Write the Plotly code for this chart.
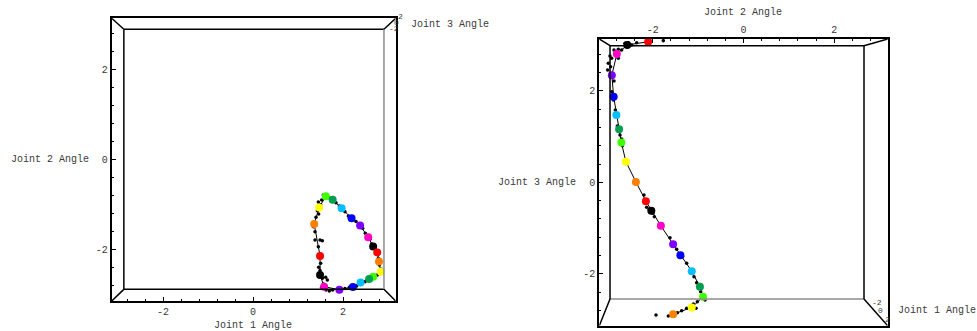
import plotly.graph_objects as go

# ---------------- data ----------------
# 20 coloured markers along one period of the trajectory, in time order
marker_colors = ["#ff8000", "#ffff00", "#40ff00", "#00a050", "#00bfff",
                 "#0000ff", "#8000ff", "#ff00c8", "#000000", "#ff0000",
                 "#ff8000", "#ffff00", "#40ff00", "#00a050", "#00bfff",
                 "#0000ff", "#8000ff", "#ff00c8", "#000000", "#ff0000"]

# view 1 (Joint 1 vs Joint 2)
view1_joint1 = [1.36, 1.47, 1.62, 1.77, 1.97, 2.19, 2.38, 2.56, 2.67, 2.76,
                2.80, 2.84, 2.67, 2.58, 2.39, 2.22, 1.92, 1.58, 1.49, 1.49]
view1_joint2 = [-1.44, -1.07, -0.82, -0.90, -1.09, -1.31, -1.47, -1.73, -1.94, -2.07,
                -2.27, -2.50, -2.61, -2.66, -2.74, -2.84, -2.90, -2.83, -2.57, -2.15]

# view 2 (Joint 2 vs Joint 3)
view2_joint2 = [-1.55, -1.14, -0.89, -0.96, -1.14, -1.39, -1.55, -1.82, -2.03, -2.15,
                -2.37, -2.59, -2.69, -2.74, -2.80, -2.86, -2.90, -2.79, -2.56, -2.10]
view2_joint3 = [-2.88, -2.73, -2.50, -2.28, -1.94, -1.59, -1.35, -0.95, -0.62, -0.41,
                0.01, 0.45, 0.87, 1.16, 1.47, 1.87, 2.34, 2.80, 3.00, 3.07]

# raw samples (small black dots)
samples1_joint1 = [1.563, 1.652, 1.526, 1.452, 1.504, 1.430, 1.459, 1.400, 1.341, 1.378,
                   1.378, 1.489, 1.541, 1.452, 1.504, 1.459, 1.489, 1.474, 1.541, 1.615,
                   1.652, 1.563, 1.526, 1.622, 1.696, 1.770, 2.044, 2.141, 2.304, 2.489,
                   2.541, 2.763, 2.859, 2.807, 2.785, 2.733, 2.637, 2.600, 2.496, 2.437,
                   2.289, 2.119, 2.044, 1.919, 1.844, 1.711]
samples1_joint2 = [-0.793, -0.845, -0.904, -0.948, -1.008, -1.141, -1.215, -1.289, -1.497, -1.608,
                   -1.793, -1.793, -1.808, -1.941, -2.311, -2.400, -2.474, -2.607, -2.645, -2.622,
                   -2.681, -2.770, -2.845, -2.904, -2.926, -2.904, -2.874, -2.845, -2.815, -2.719,
                   -2.667, -2.570, -2.445, -2.348, -2.200, -2.015, -1.882, -1.778, -1.644, -1.533,
                   -1.385, -1.259, -1.163, -1.037, -0.963, -0.867]

samples2_joint2 = [-2.610, -2.537, -2.463, -2.353, -2.683, -2.757, -2.852, -2.941, -2.904, -2.757,
                   -2.977, -2.926, -2.992, -2.852, -2.904, -2.867, -2.823, -2.779, -2.720, -2.683,
                   -2.668, -2.624, -2.192, -2.133, -2.074, -2.000, -1.964, -1.619, -1.472, -1.340,
                   -1.252, -1.090, -1.032, -0.943, -0.848, -1.017, -1.105, -1.046, -1.252, -1.362,
                   -1.457, -1.656, -1.927, -1.766, -2.588]
samples2_joint3 = [3.035, 3.050, 2.999, 3.050, 2.890, 2.904, 2.890, 2.759, 2.708, 2.708,
                   2.599, 2.526, 2.453, 2.213, 1.980, 1.798, 1.580, 1.230, 1.034, 0.947,
                   0.801, 0.459, -0.276, -0.545, -0.589, -0.676, -0.749, -1.208, -1.462, -1.623,
                   -1.768, -2.059, -2.190, -2.387, -2.569, -2.605, -2.656, -2.751, -2.751, -2.802,
                   -2.846, -2.918, -2.896, 3.093, 2.977]

tick_values = [-2, 0, 2]
tick_labels = ["-2", "0", "2"]
depth_tick_labels = ["2", "0", "-2"]

# ---------------- figure ----------------
W, H = 977, 331
FONT = "Liberation Mono"
TXT = "#3a3a3a"

fig = go.Figure()

# view 1
fig.add_trace(go.Scatter(x=view1_joint1 + view1_joint1[:1], y=view1_joint2 + view1_joint2[:1],
                         mode="lines", line=dict(color="black", width=1),
                         xaxis="x", yaxis="y", hoverinfo="skip"))
fig.add_trace(go.Scatter(x=samples1_joint1, y=samples1_joint2, mode="markers",
                         marker=dict(color="black", size=3.5), xaxis="x", yaxis="y"))
fig.add_trace(go.Scatter(x=view1_joint1, y=view1_joint2, mode="markers",
                         marker=dict(color=marker_colors, size=8), xaxis="x", yaxis="y"))

# view 2
fig.add_trace(go.Scatter(x=view2_joint2, y=view2_joint3, mode="lines",
                         line=dict(color="black", width=1),
                         xaxis="x2", yaxis="y2", hoverinfo="skip"))
fig.add_trace(go.Scatter(x=samples2_joint2, y=samples2_joint3, mode="markers",
                         marker=dict(color="black", size=3.5), xaxis="x2", yaxis="y2"))
fig.add_trace(go.Scatter(x=view2_joint2, y=view2_joint3, mode="markers",
                         marker=dict(color=marker_colors, size=8), xaxis="x2", yaxis="y2"))


def px(x):
    return x / W


def py(y):
    return 1 - y / H


common_axis = dict(
    tickvals=tick_values, ticktext=tick_labels,
    ticks="inside", ticklen=4, tickwidth=1, tickcolor="black",
    minor=dict(dtick=0.4, tick0=0, ticks="inside", ticklen=2, tickwidth=1, tickcolor="black"),
    showline=True, linewidth=2, linecolor="black", mirror=True,
    showgrid=False, zeroline=False,
    tickfont=dict(family=FONT, size=10, color=TXT),
)

L_X = (-3.140, 3.171)
L_Y = (-3.149, 3.133)
R_X = (-3.176, 3.176)
R_Y = (-3.130, 3.130)

fig.update_layout(
    width=W, height=H,
    margin=dict(l=0, r=0, t=0, b=0),
    paper_bgcolor="white", plot_bgcolor="white",
    showlegend=False,
    xaxis=dict(domain=[px(111.7), px(395.7)], range=list(L_X), anchor="y", **common_axis),
    yaxis=dict(domain=[py(301), py(18.3)], range=list(L_Y), anchor="x", **common_axis),
    xaxis2=dict(domain=[px(599.3), px(887.7)], range=list(R_X), anchor="y2", side="top", **common_axis),
    yaxis2=dict(domain=[py(325.7), py(39)], range=list(R_Y), anchor="x2", **common_axis),
)

# box frames (back face + corner edges)
def frame(xr, yr, xax, yax, inner, gray_side):
    x0, x1 = xr
    y0, y1 = yr
    ix0, ix1, iy0, iy1 = inner
    shapes = []
    sides = {
        "top": (ix0, iy1, ix1, iy1),
        "bottom": (ix0, iy0, ix1, iy0),
        "left": (ix0, iy0, ix0, iy1),
        "right": (ix1, iy0, ix1, iy1),
    }
    for name, (a, b, c, d) in sides.items():
        col = "#8c8c8c" if name == gray_side else "black"
        shapes.append(dict(type="line", xref=xax, yref=yax, x0=a, y0=b, x1=c, y1=d,
                           line=dict(color=col, width=1.5)))
    for (ox, oy, inx, iny) in [(x0, y0, ix0, iy0), (x1, y0, ix1, iy0),
                               (x0, y1, ix0, iy1), (x1, y1, ix1, iy1)]:
        shapes.append(dict(type="line", xref=xax, yref=yax, x0=ox, y0=oy, x1=inx, y1=iny,
                           line=dict(color="black", width=1.5)))
    return shapes


shapes = frame(L_X, L_Y, "x", "y", (-2.87, 2.91, -2.89, 2.89), "right")
shapes += frame(R_X, R_Y, "x2", "y2", (-2.94, 2.654, -2.547, 2.984), "bottom")
fig.update_layout(shapes=shapes)

annos = []


def label(text, x, y, size=10):
    annos.append(dict(text=text, x=px(x), y=py(y), xref="paper", yref="paper",
                      xanchor="center", yanchor="middle", showarrow=False,
                      font=dict(family=FONT, size=size, color=TXT)))


label("Joint 1 Angle", 253, 325)
label("Joint 2 Angle", 49.5, 159)
label("Joint 3 Angle", 449.5, 24)
label("Joint 2 Angle", 743, 12)
label("Joint 3 Angle", 536.5, 182)
label("Joint 1 Angle", 936.5, 310)

# compressed depth-axis tick labels at the corners
for t, (x, y) in zip(depth_tick_labels, [(400, 16.5), (396, 22.5), (394, 28.5)]):
    label(t, x, y, size=8)
for t, (x, y) in zip(tick_labels, [(877, 302), (880.5, 310), (887, 319)]):
    label(t, x, y, size=8)

fig.update_layout(annotations=annos)

fig.write_html("out.html",
               config={"displayModeBar": False},
               post_script="document.body.style.margin='0';document.body.style.padding='0';")
